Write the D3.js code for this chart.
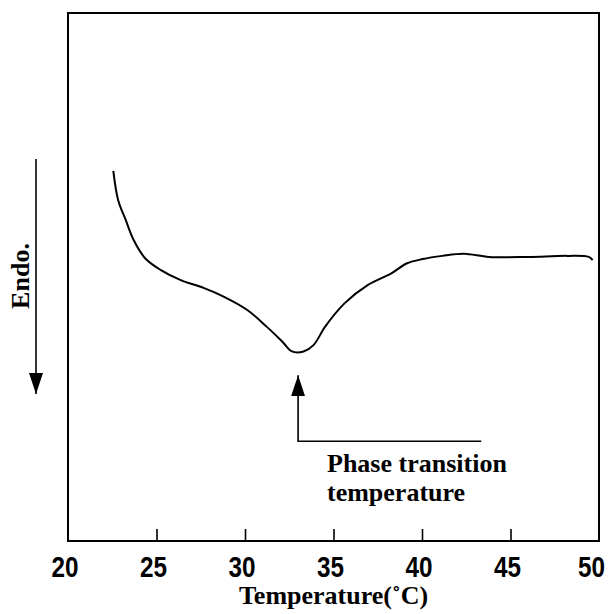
<!DOCTYPE html>
<html>
<head>
<meta charset="utf-8">
<script src="https://cdn.jsdelivr.net/npm/d3@7"></script>
<style>
  html, body { margin: 0; padding: 0; background: #fff; }
  svg { display: block; }
</style>
</head>
<body>
<div id="chart"></div>
<script>
// DSC heating scan: temperature (°C) against heat flow (arbitrary units)
const temperature = [22.56, 22.83, 23.26, 23.71, 24.37, 25.25, 26.37, 27.69, 28.79, 30.11,
  31.22, 32.10, 32.65, 33.31, 33.87, 34.53, 35.62, 36.95, 38.27, 39.16,
  40.04, 41.15, 42.36, 43.79, 46.00, 48.21, 49.42, 49.64];
const heatFlow = [70.1, 64.6, 60.8, 57.0, 53.5, 51.3, 49.4, 47.9, 46.3, 43.8,
  40.6, 37.8, 35.9, 35.9, 37.1, 40.6, 45.0, 48.5, 50.7, 52.6,
  53.4, 54.0, 54.4, 53.8, 53.8, 54.0, 53.8, 53.2];
const xTicks = [20, 25, 30, 35, 40, 45, 50];

// Phase transition marker
const transitionTemp = 33;
const markerTop = 31.4;
const markerBottom = 18.9;
const markerEnd = 43.35;

const width = 610, height = 614;
const margin = { left: 68, right: 11, top: 13, bottom: 73 };

const svg = d3.select("#chart").append("svg")
  .attr("width", width).attr("height", height);

const x = d3.scaleLinear().domain([20, 50]).range([margin.left, width - margin.right]);
const y = d3.scaleLinear().domain([0, 100]).range([height - margin.bottom, margin.top]);

// arrowhead, drawn pointing along the path direction
const defs = svg.append("defs");
defs.append("marker")
  .attr("id", "head")
  .attr("viewBox", "0 0 21 14")
  .attr("refX", 21).attr("refY", 7)
  .attr("markerWidth", 21).attr("markerHeight", 14)
  .attr("markerUnits", "userSpaceOnUse")
  .attr("orient", "auto")
  .append("path").attr("d", "M0,0 L21,7 L0,14 Z").attr("fill", "#000");

// frame
svg.append("rect")
  .attr("x", x(20)).attr("y", y(100))
  .attr("width", x(50) - x(20)).attr("height", y(0) - y(100))
  .attr("fill", "none").attr("stroke", "#000").attr("stroke-width", 2);

// bottom axis with inward ticks
const xAxis = d3.axisBottom(x)
  .tickValues(xTicks)
  .tickSize(-12)
  .tickPadding(0)
  .tickFormat(d3.format("d"));

const gx = svg.append("g")
  .attr("transform", `translate(0,${y(0)})`)
  .call(xAxis);
gx.select(".domain").remove();
gx.selectAll(".tick line")
  .attr("stroke", "#000").attr("stroke-width", 1.6)
  .attr("display", d => (d === 20 || d === 50) ? "none" : null);
gx.selectAll(".tick text")
  .attr("x", d => d === 50 ? -8 : -3.5)
  .attr("y", 36)
  .attr("dy", 0)
  .attr("font-family", "'Liberation Sans', Arial, sans-serif")
  .attr("font-weight", "bold")
  .attr("font-size", 29)
  .attr("textLength", 27)
  .attr("lengthAdjust", "spacingAndGlyphs")
  .attr("fill", "#000");

// axis title
svg.append("text")
  .attr("x", (x(20) + x(50)) / 2)
  .attr("y", 604)
  .attr("text-anchor", "middle")
  .attr("font-family", "'Liberation Serif', 'Times New Roman', serif")
  .attr("font-weight", "bold")
  .attr("font-size", 26)
  .text("Temperature(˚C)");

// DSC curve
const pts = temperature.map((t, i) => [t, heatFlow[i]]);
svg.append("path")
  .datum(pts)
  .attr("fill", "none")
  .attr("stroke", "#000")
  .attr("stroke-width", 2)
  .attr("stroke-linejoin", "round")
  .attr("d", d3.line()
    .x(d => x(d[0]))
    .y(d => y(d[1]))
    .curve(d3.curveCatmullRom.alpha(0.5)));

// transition marker: vertical arrow and horizontal leader
svg.append("path")
  .attr("fill", "none").attr("stroke", "#000").attr("stroke-width", 1.6)
  .attr("marker-end", "url(#head)")
  .attr("d", `M${x(markerEnd)},${y(markerBottom)} L${x(transitionTemp)},${y(markerBottom)} L${x(transitionTemp)},${y(markerTop)}`);

const note = svg.append("text")
  .attr("x", 327)
  .attr("y", 472)
  .attr("font-family", "'Liberation Serif', 'Times New Roman', serif")
  .attr("font-weight", "bold")
  .attr("font-size", 26);
note.append("tspan").attr("x", 327).text("Phase transition");
note.append("tspan").attr("x", 327).attr("dy", 29).text("temperature");

// endothermic direction arrow
svg.append("line")
  .attr("x1", 36).attr("x2", 36)
  .attr("y1", 159).attr("y2", 394)
  .attr("stroke", "#000").attr("stroke-width", 1.6)
  .attr("marker-end", "url(#head)");

svg.append("text")
  .attr("transform", "translate(29,276) rotate(-90)")
  .attr("text-anchor", "middle")
  .attr("font-family", "'Liberation Serif', 'Times New Roman', serif")
  .attr("font-weight", "bold")
  .attr("font-size", 26)
  .text("Endo.");
</script>
</body>
</html>
